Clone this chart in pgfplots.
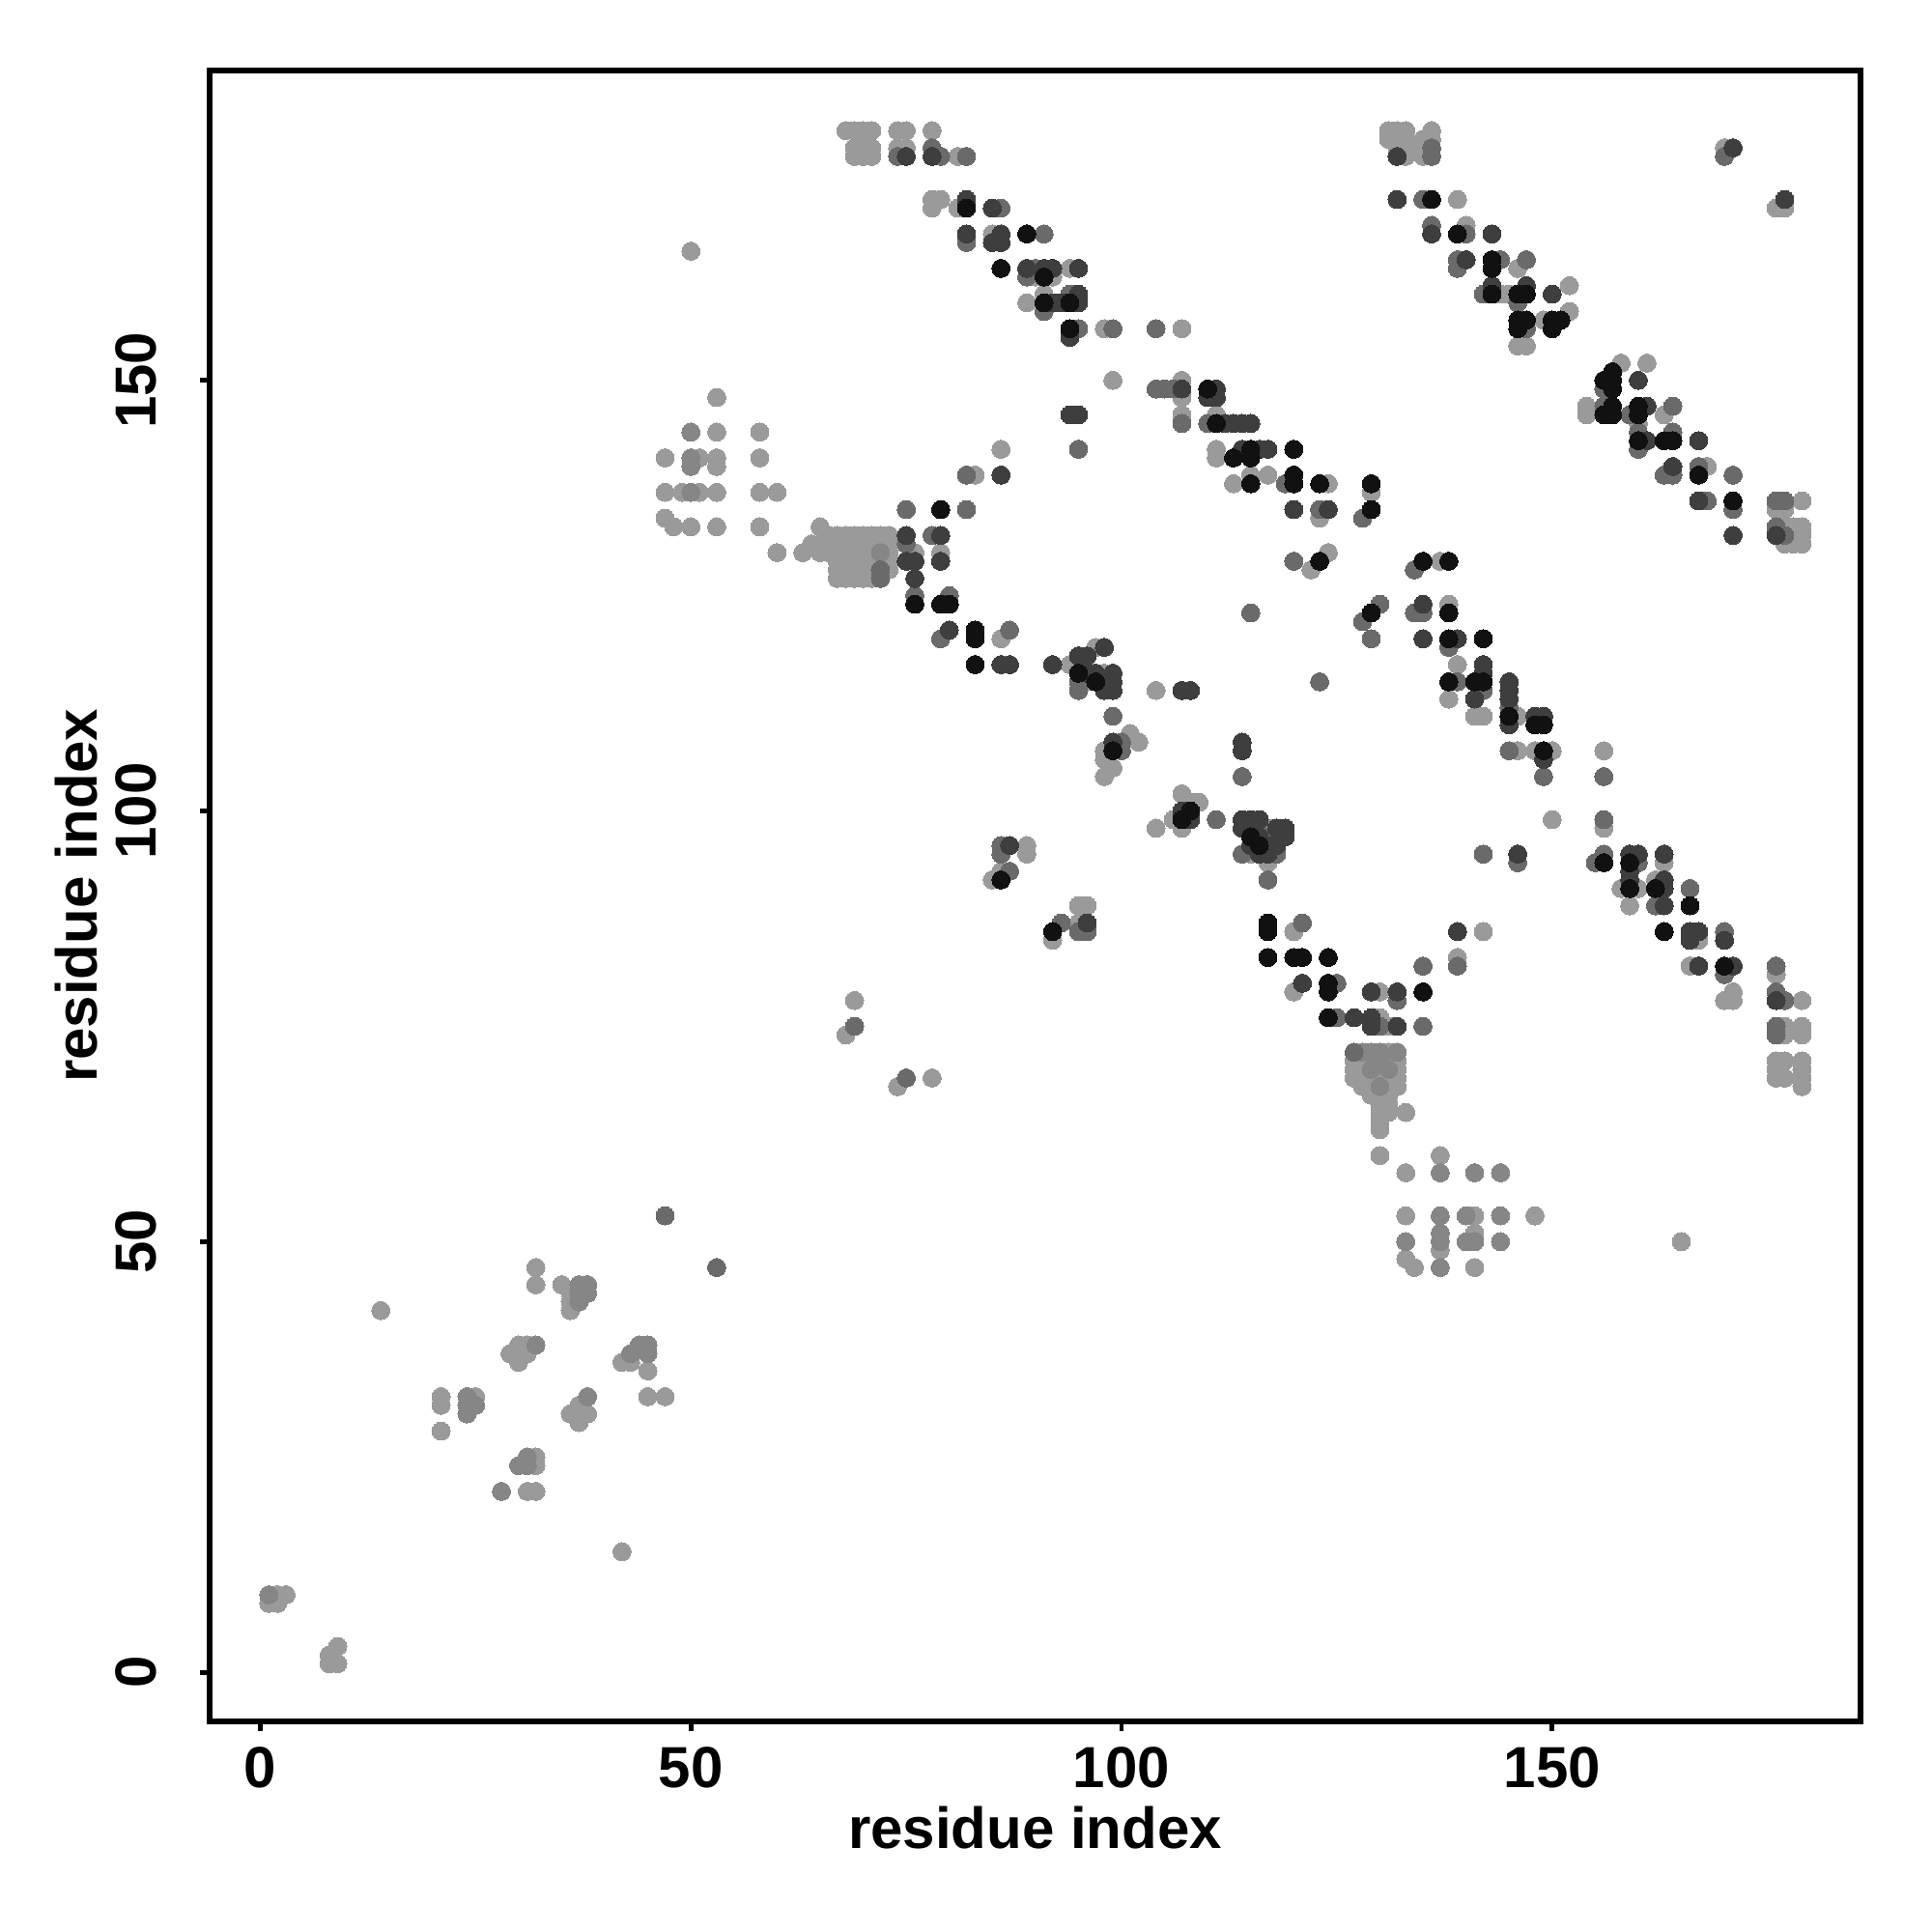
\documentclass[border=0pt]{standalone}
\usepackage{pgfplots}
\pgfplotsset{compat=1.18}
\usepackage{fontspec}
\setmainfont{Liberation Sans}

\definecolor{ga}{HTML}{9A9A9A}
\definecolor{gb}{HTML}{868686}
\definecolor{gc}{HTML}{6A6A6A}
\definecolor{gd}{HTML}{3E3E3E}
\definecolor{ge}{HTML}{111111}

% contact points, one table per grey level
\pgfplotstableread{
x y
32 47
32 45
35 45
36 44
36 43
36 42
14 42
29 37
30 38
31 38
30 36
31 37
42 36
43 36
45 35
45 32
47 32
21 32
21 31
25 32
21 28
37 31
36 30
38 30
37 29
32 25
32 24
31 21
32 21
42 14
2 9
3 9
1 8
2 8
9 3
8 2
9 1
8 1
69 78
68 74
74 68
78 69
130 60
137 60
133 58
133 53
141 53
148 53
165 50
141 51
137 49
133 48
134 47
141 47
130 63
130 65
133 65
53 148
53 144
58 144
47 141
51 141
53 141
53 140
58 141
47 137
49 137
51 137
53 137
58 137
60 137
47 134
48 133
50 133
53 133
58 133
60 130
65 133
63 130
64 131
65 131
65 130
50 165
66 132
67 132
68 132
69 132
70 132
71 132
72 132
73 132
66 131
67 131
68 131
69 131
70 131
71 131
72 131
73 131
66 130
67 130
68 130
69 130
70 130
71 130
73 130
67 129
68 129
69 129
70 129
71 129
72 129
73 129
67 128
68 128
69 128
70 128
71 128
73 128
67 127
68 127
69 127
70 127
71 127
83 139
86 142
76 130
79 130
86 120
68 179
69 179
70 179
71 179
74 179
75 179
78 179
69 177
70 177
71 177
74 177
75 177
69 176
70 176
71 176
81 176
78 171
79 171
78 170
81 170
85 167
94 163
90 162
92 162
91 160
89 159
98 156
107 156
99 150
107 150
107 148
107 146
111 146
111 142
111 141
113 138
115 139
117 139
124 138
129 137
123 134
124 130
122 128
130 124
94 117
97 119
98 116
96 115
104 114
98 107
101 109
102 108
98 106
99 105
98 104
107 102
108 101
106 99
104 98
107 98
109 101
89 96
89 95
86 93
85 92
95 89
96 89
92 85
95 87
117 98
115 95
117 94
118 97
120 86
120 79
130 79
131 72
127 71
128 71
129 71
131 71
132 71
127 70
128 70
130 70
132 70
127 69
128 69
129 69
130 69
131 69
132 69
128 68
129 68
131 68
132 68
129 67
130 67
131 67
130 66
131 66
131 65
130 64
150 99
156 98
163 94
158 91
160 91
159 89
162 92
167 85
166 82
170 78
171 79
171 78
176 81
179 78
177 75
177 74
179 75
179 74
176 71
177 71
179 71
176 70
179 70
176 69
177 69
179 69
179 68
142 86
139 83
130 76
131 75
137 129
138 124
139 117
138 113
146 111
141 111
142 111
146 107
148 107
150 107
156 107
154 147
154 146
160 145
163 146
168 140
179 136
176 135
177 135
177 133
178 133
179 133
178 132
179 132
177 131
178 131
179 131
158 152
161 152
131 179
132 179
133 179
136 179
131 178
132 178
133 178
135 178
136 178
132 177
133 177
135 177
133 176
135 176
139 171
140 168
146 163
152 161
144 160
145 160
152 158
149 157
146 154
147 154
170 177
176 170
177 170
}\lighttab

\pgfplotstableread{
x y
37 45
38 45
37 44
38 44
37 43
32 38
43 37
44 38
45 38
45 37
24 32
24 31
25 31
24 30
38 32
30 24
31 25
31 24
28 21
1 9
137 58
141 58
144 58
137 53
140 53
144 53
133 50
137 50
140 50
141 50
144 50
137 51
137 47
50 144
50 141
50 140
50 137
72 130
128 72
129 72
130 72
132 72
130 71
129 70
131 70
130 68
}\lightmedtab

\pgfplotstableread{
x y
47 53
53 47
69 75
75 69
72 128
72 127
75 135
82 135
82 139
75 131
78 132
76 125
80 125
79 120
87 121
78 177
74 176
79 176
82 176
86 170
91 167
82 166
90 163
89 162
94 160
91 158
95 156
99 156
104 156
104 149
105 149
106 149
107 145
110 145
95 142
119 138
123 135
128 134
120 129
128 122
129 120
115 123
123 115
95 115
95 114
99 111
100 108
100 107
114 104
111 99
86 96
86 95
87 93
93 87
95 86
96 86
114 95
117 97
118 95
117 92
121 87
125 80
125 76
127 72
156 99
142 95
146 94
155 94
156 95
160 94
162 89
166 91
170 86
170 81
176 82
176 79
177 78
176 75
176 74
135 82
139 82
132 78
135 75
130 75
134 128
130 124
134 123
135 123
138 119
139 115
142 114
145 112
145 107
149 104
156 104
156 149
156 147
159 146
160 144
164 147
164 144
160 142
163 139
164 139
167 140
171 139
168 136
171 135
176 136
177 136
176 133
177 132
136 177
136 176
135 171
136 168
140 167
139 164
144 164
147 164
139 163
142 160
146 159
147 156
170 176
}\medtab

\pgfplotstableread{
x y
75 132
75 129
76 129
79 132
79 129
76 127
80 121
86 139
86 117
87 117
92 117
75 176
78 176
82 171
85 170
82 167
86 167
85 166
86 166
89 163
91 163
92 163
95 163
95 160
92 159
93 159
95 159
94 155
107 149
111 149
110 148
111 148
94 146
95 146
112 145
113 145
114 145
115 145
114 142
116 142
117 142
120 135
124 135
95 118
96 118
98 119
96 116
97 116
99 116
98 115
99 115
98 114
99 114
107 114
108 114
99 108
114 108
114 107
107 100
108 99
87 96
96 87
114 99
115 99
116 99
118 98
119 98
119 97
116 95
117 95
118 96
116 97
114 98
115 96
117 96
121 80
127 76
129 76
129 75
129 79
146 95
159 95
160 95
163 95
159 93
159 92
163 92
163 91
163 89
166 86
167 86
166 85
170 85
167 82
171 82
176 78
139 86
132 79
132 75
135 124
135 120
139 120
142 117
142 116
141 113
145 115
145 114
145 113
145 110
148 111
149 111
149 106
160 150
161 147
161 143
167 143
164 140
167 136
171 132
176 132
132 176
132 171
136 167
143 167
140 164
143 161
147 161
150 160
171 177
177 171
}\darktab

\pgfplotstableread{
x y
79 135
76 124
79 124
80 124
83 121
83 120
83 117
82 170
89 167
86 163
91 162
91 159
94 159
94 156
110 149
111 145
115 142
120 142
113 141
115 141
115 138
120 139
120 138
123 138
129 138
129 135
123 129
129 123
95 116
97 115
99 107
108 100
107 99
86 92
92 86
116 96
115 97
117 87
117 86
117 83
120 83
121 83
124 83
124 80
124 79
124 76
156 94
159 94
159 91
162 91
166 89
163 86
170 82
135 79
135 129
138 129
138 123
138 120
142 120
138 115
141 115
142 115
145 111
148 110
149 110
149 107
156 150
157 150
157 149
157 147
156 146
157 146
160 147
160 146
163 143
164 143
160 143
167 139
171 136
157 151
136 171
139 167
143 164
143 163
143 160
146 160
147 160
146 157
147 157
150 157
151 157
146 156
150 156
}\blacktab

\begin{document}
\begin{tikzpicture}
\begin{axis}[
    scale only axis,
    width=427.3pt, height=427.3pt,
    xmin=-5.9, xmax=185.8,
    ymin=-5.7, ymax=186.0,
    xtick={0,50,100,150},
    ytick={0,50,100,150},
    tick align=outside,
    xtick pos=lower, ytick pos=left,
    major tick length=2.5pt,
    axis line style={line width=1.4pt},
    every tick/.style={black, line width=1.2pt},
    /pgf/number format/assume math mode=true,
    ticklabel style={font=\fontsize{15}{18}\selectfont\bfseries},
    xticklabel style={anchor=center, yshift=-9.5pt},
    yticklabel style={xshift=-16.6pt, rotate=90, anchor=center},
    xlabel={residue index},
    ylabel={residue index},
    label style={font=\fontsize{15}{18}\selectfont\bfseries},
    xlabel style={at={(axis description cs:0.5,-0.0644)}, anchor=center},
    ylabel style={at={(axis description cs:-0.0806,0.5)}, anchor=center},
    every axis plot/.append style={only marks, mark=*, mark size=2.35pt},
]
\addplot[ga, mark options={draw=ga, fill=ga, line width=0pt}] table {\lighttab};
\addplot[gb, mark options={draw=gb, fill=gb, line width=0pt}] table {\lightmedtab};
\addplot[gc, mark options={draw=gc, fill=gc, line width=0pt}] table {\medtab};
\addplot[gd, mark options={draw=gd, fill=gd, line width=0pt}] table {\darktab};
\addplot[ge, mark options={draw=ge, fill=ge, line width=0pt}] table {\blacktab};
\coordinate (sw) at (rel axis cs:0,0);
\coordinate (ne) at (rel axis cs:1,1);
\end{axis}
\pgfresetboundingbox
\path[use as bounding box] ([shift={(-54.2pt,-54.5pt)}]sw) rectangle ([shift={(18.5pt,18.2pt)}]ne);
\end{tikzpicture}
\end{document}
